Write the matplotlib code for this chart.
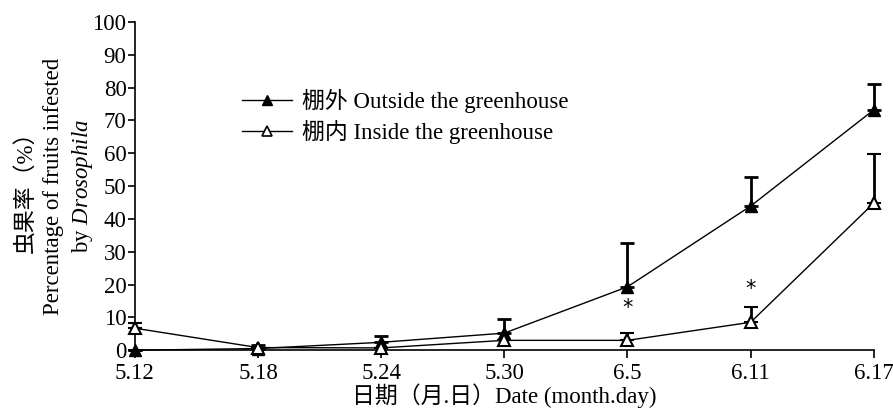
import matplotlib.pyplot as plt
from matplotlib.lines import Line2D
import numpy as np

plt.rcParams['font.family'] = ['Liberation Serif', 'Noto Sans CJK SC']
plt.rcParams['mathtext.fontset'] = 'custom'
plt.rcParams['mathtext.rm'] = 'Liberation Serif'
plt.rcParams['mathtext.it'] = 'Liberation Serif:italic'

dates = ["5.12", "5.18", "5.24", "5.30", "6.5", "6.11", "6.17"]

# infestation rate (%) and upper error (SE)
outside = [0, 0.5, 2.4, 5.2, 19.3, 43.9, 73.2]
outside_err = [0, 1.2, 2.0, 4.3, 13.3, 8.9, 7.8]
inside = [6.7, 0.8, 0.7, 3.0, 3.0, 8.5, 44.8]
inside_err = [1.5, 0, 0, 0, 2.2, 4.6, 15.0]

# significant differences between the two sites
star_dates = ["6.5", "6.11"]
star_y = [12.8, 18.6]

FS = 16.5
x = np.arange(len(dates))

fig = plt.figure(figsize=(8.93, 4.12), dpi=100)
ax = fig.add_axes([0.151, 0.150, 0.8275, 0.797])

ax.errorbar(x, outside, yerr=[np.zeros(len(x)), outside_err], color='black',
            lw=1, marker='^', ms=9, mfc='black', mec='black',
            ecolor='black', elinewidth=2, capsize=5, capthick=2,
            clip_on=False, zorder=3)
ax.errorbar(x, inside, yerr=[np.zeros(len(x)), inside_err], color='black',
            lw=1, marker='^', ms=9, mfc='white', mec='black', mew=1.5,
            ecolor='black', elinewidth=2, capsize=5, capthick=2,
            clip_on=False, zorder=3)

for d, y in zip(star_dates, star_y):
    ax.text(dates.index(d), y, "*", ha='center', va='center', fontsize=15,
            family='DejaVu Sans')

ax.set_xlim(0, len(dates) - 1)
ax.set_ylim(0, 100)
ax.set_xticks(x)
ax.set_xticklabels(dates)
ax.set_yticks(np.arange(0, 101, 10))
ax.tick_params(labelsize=FS, direction='out', length=5, width=1.2, pad=1)
ax.tick_params(axis='x', length=6, pad=3)
ax.spines['top'].set_visible(False)
ax.spines['right'].set_visible(False)
ax.spines['left'].set_linewidth(1.2)
ax.spines['bottom'].set_linewidth(1.2)

ax.set_xlabel("日期（月.日）Date (month.day)", fontsize=FS, labelpad=0)

# three-line y label
ax.text(-0.148, 0.5, "虫果率（%）", transform=ax.transAxes, rotation=90,
        ha='center', va='center', fontsize=FS)
ax.text(-0.110, 0.5, "Percentage of fruits infested", transform=ax.transAxes,
        rotation=90, ha='center', va='center', fontsize=FS)
ax.text(-0.071, 0.5, r"by $\it{Drosophila}$", transform=ax.transAxes,
        rotation=90, ha='center', va='center', fontsize=FS)

handles = [
    Line2D([], [], color='black', lw=1, marker='^', ms=7, mfc='black',
           mec='black'),
    Line2D([], [], color='black', lw=1, marker='^', ms=7, mfc='white',
           mec='black', mew=1.2),
]
labels = ["棚外 Outside the greenhouse", "棚内 Inside the greenhouse"]
ax.legend(handles, labels, loc='upper left', bbox_to_anchor=(0.145, 0.795),
          frameon=False, fontsize=FS, handlelength=2.2, handletextpad=0.4,
          labelspacing=0.3, borderaxespad=0, borderpad=0)

fig.savefig("out.png", dpi=100)
